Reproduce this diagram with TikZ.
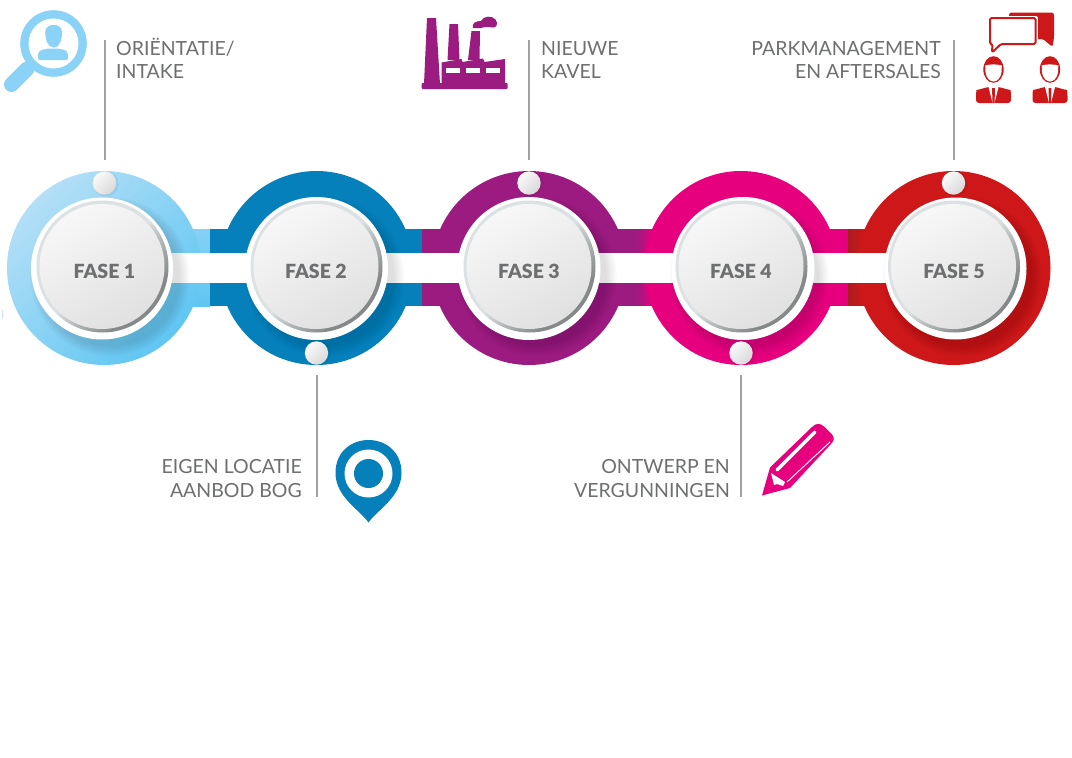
\documentclass[tikz,border=0pt]{standalone}
\usepackage{fontspec}
\setmainfont{Lato}
\newfontfamily\fasefont{Lato Black}
\usetikzlibrary{calc}
\definecolor{cA}{HTML}{8AD2F6}
\definecolor{cAl}{HTML}{B4DFF7}
\definecolor{cAm}{HTML}{84D1F6}
\definecolor{cAd}{HTML}{5FC6F2}
\definecolor{cB}{HTML}{0580BB}
\definecolor{cC}{HTML}{9C1B80}
\definecolor{cD}{HTML}{E6007E}
\definecolor{cE}{HTML}{CD1719}
\definecolor{cEd}{HTML}{A91D1F}
\definecolor{txt}{HTML}{6E6F70}
\definecolor{lead}{HTML}{9FA1A2}
\definecolor{rimpale}{HTML}{DCE2E3}
\definecolor{rimdark}{HTML}{858989}
\definecolor{rimmid}{HTML}{B4B9BA}
\pgfdeclareverticalshading{rimshade}{100bp}{color(0bp)=(rimdark); color(30bp)=(rimdark); color(42bp)=(rimmid); color(50bp)=(rimpale); color(100bp)=(rimpale)}
\tikzset{
  x=1pt,y=-1pt,
  leader/.style={draw=lead,line width=2pt},
  lbl/.style={text=txt,font=\fontsize{19.5}{23}\selectfont,inner sep=0pt},
  fase/.style={text=txt,font=\fontsize{19.5}{20}\fasefont\selectfont,inner sep=0pt,anchor=base},
  discnode/.style={circle,minimum size=125pt,inner sep=0pt,shading=axis,left color=white!97!black,right color=white!88!black,shading angle=30},
  rimnode/.style={circle,minimum size=132pt,inner sep=0pt,shading=rimshade,shading angle=45},
  knob/.style={circle,minimum size=23.4pt,inner sep=0pt,shading=axis,left color=white!98!black,right color=white!85!black,shading angle=45}
}
\newcommand{\softshadow}[3]{%
  \foreach \r in {1,...,8}{\fill[black,opacity=0.015] (#1,#2) circle ({#3-\r*1.4});}}
\begin{document}
\begin{tikzpicture}
\useasboundingbox (0,0) rectangle (1072,758);
\fill[white] (0,0) rectangle (1072,758);

% bars
\shade[top color=cAm,bottom color=cAd] (104,229) rectangle (210,306);
\foreach \a/\b/\c in {210/422/cB,422/636/cC,636/848/cD,848/953/cE}{
  \fill[\c] (\a,229) rectangle (\b,306);
}
\shade[left color=cC,right color=cD] (636,229.2) rectangle (654,305.8);
\shade[left color=cEd,right color=cE] (848,229.2) rectangle (863,305.8);
% rings
\shade[left color=cAl,right color=cAd,shading angle=45] (104,268) circle (97);
\fill[cB] (316.5,268) circle (97);
\fill[cC] (529,268) circle (97);
\fill[cD] (741,268) circle (97);
\fill[cE] (953.5,268) circle (97);
\fill[cAl!60!white] (2.6,314) ellipse (0.8 and 5);
% white channel
\fill[white] (104,253) rectangle (953,283);

% shadows
\softshadow{110}{276.5}{81}
\softshadow{324.5}{276.5}{81}
\softshadow{537}{276.5}{81}
\softshadow{749}{276.5}{81}
\softshadow{962}{276.5}{81}

% white halos
\fill[white] (102,268.5) circle (71);
\fill[white] (316.5,268.5) circle (71.5);
\fill[white] (529,268.5) circle (71.5);
\fill[white] (743,268.5) circle (71.5);
\fill[white] (955.5,268.5) circle (71);

% rims and discs
\node[rimnode] (r1) at (102.5,266.5) {};
\node[rimnode] (r2) at (316.5,266.5) {};
\node[rimnode] (r3) at (529.5,266.5) {};
\node[rimnode] (r4) at (741.5,266.5) {};
\node[rimnode] (r5) at (954,266.5) {};
\node[discnode] (d1) at (102,266.5) {};
\node[discnode] (d2) at (316,266.5) {};
\node[discnode] (d3) at (529,266.5) {};
\node[discnode] (d4) at (741,266.5) {};
\node[discnode] (d5) at (953.5,266.5) {};
\node[fase] (t1) at (104.5,278) {FASE 1};
\node[fase] (t2) at (316,278) {FASE 2};
\node[fase] (t3) at (529,278) {FASE 3};
\node[fase] (t4) at (741,278) {FASE 4};
\node[fase] (t5) at (954,278) {FASE 5};

% knobs
\foreach \x/\y in {104.5/183,529/183,953.5/183,316.5/353,741/353}{
  \fill[black,opacity=.05] (\x+1.5,\y+1) circle (12.6);
}
\node[knob] (k1) at (104.5,183) {};
\node[knob] (k2) at (316.5,353) {};
\node[knob] (k3) at (529,183) {};
\node[knob] (k4) at (741,353) {};
\node[knob] (k5) at (953.5,183) {};

% leaders
\coordinate (e1) at (104.5,40);
\coordinate (e2) at (316.5,497);
\coordinate (e3) at (529,40);
\coordinate (e4) at (741,497);
\coordinate (e5) at (953.5,40);
\draw[leader,shorten >=11.5pt] (e1) -- (k1.north);
\draw[leader,shorten >=10.5pt] (e2) -- (k2.south);
\draw[leader,shorten >=11.5pt] (e3) -- (k3.north);
\draw[leader,shorten >=10.5pt] (e4) -- (k4.south);
\draw[leader,shorten >=11.5pt] (e5) -- (k5.north);

% labels
\node[lbl,anchor=base west] (l1a) at (116,55) {ORIËNTATIE/};
\node[lbl,anchor=base west] (l1b) at (116,78) {INTAKE};
\node[lbl,anchor=base east] (l2a) at (302,473) {EIGEN LOCATIE};
\node[lbl,anchor=base east] (l2b) at (302,497) {AANBOD BOG};
\node[lbl,anchor=base west] (l3a) at (541,55) {NIEUWE};
\node[lbl,anchor=base west] (l3b) at (541,78) {KAVEL};
\node[lbl,anchor=base east] (l4a) at (730,473) {ONTWERP EN};
\node[lbl,anchor=base east] (l4b) at (730,497) {VERGUNNINGEN};
\node[lbl,anchor=base east] (l5a) at (941,55) {PARKMANAGEMENT};
\node[lbl,anchor=base east] (l5b) at (941,78) {EN AFTERSALES};

% magnifier icon
\draw[cA,line width=15pt,line cap=round] (27,69) -- (11.5,84.5);
\fill[cA] (53.5,43.5) circle (33.3);
\fill[white] (53.5,43.5) circle (25);
\fill[cA] (45.2,32) .. controls (45.2,22.5) and (62,22.5) .. (62,32) .. controls (62,38) and (60.5,47.5) .. (53.5,47.5) .. controls (47,47.5) and (45.2,38) .. (45.2,32) -- cycle;
\fill[cA,rounded corners=2pt] (38,60) -- (38,55) .. controls (39,50) and (45,48.5) .. (53,48.5) .. controls (61,48.5) and (67,50) .. (68,55) -- (68,60) -- cycle;

% factory icon
\fill[cC,rounded corners=1pt] (421.5,83) rectangle (507.5,89);
\fill[cC] (427,18) -- (436,18) -- (440,84) -- (424,84) -- cycle;
\fill[cC] (449.5,24) -- (458,24) -- (459.5,60) -- (447.5,60) -- cycle;
\fill[cC] (471.5,31) -- (480,31) -- (479.5,60) -- (468,60) -- cycle;
\fill[cC] (441.5,84) -- (441.5,62.5) -- (461.5,59) -- (462.5,62) -- (483,58.5) -- (484.5,62) -- (505,59) -- (505,84) -- cycle;
\fill[white] (446,67.5) rectangle (459.5,73);
\fill[white] (466,67.5) rectangle (479.5,73);
\fill[white] (486,67.5) rectangle (499.5,73);
\fill[cC] (473,28) .. controls (471.5,23) and (476,21) .. (481,21) .. controls (483,16) and (492,15) .. (495.5,19.5) .. controls (499,24) and (496,28.5) .. (492,27.5) .. controls (488,26.5) and (484,27) .. (481,28) -- cycle;

% chat and people icon
\fill[cE,rounded corners=2.5pt] (1009,12.5) -- (1054,12.5) -- (1054,38) -- (1052.5,47) -- (1043,39) -- (1030,39) -- (1009,20) -- cycle;
\draw[white,line width=4.5pt,fill=white,line join=round] (990,18) -- (1035.5,18) -- (1035.5,44) -- (990,44) -- cycle;
\draw[cE,fill=white,line width=2pt,line join=round,rounded corners=1.5pt] (990,18) -- (1035.5,18) -- (1035.5,44) -- (1001,44) -- (992,52.5) -- (992.5,44) -- (990,44) -- cycle;
\foreach \c in {993.5,1050}{
  \fill[cE] (\c,69.5) ellipse (10.2 and 13.3);
  \fill[white] (\c-8.3,65.5) .. controls (\c-3,64) and (\c+3,64) .. (\c+8.3,65.5) -- (\c+8,72) .. controls (\c+7,79) and (\c+3,81.5) .. (\c,81.5) .. controls (\c-3,81.5) and (\c-7,79) .. (\c-8,72) -- cycle;
  \fill[cE,rounded corners=3pt] (\c-17.5,103) -- (\c-17.5,93) .. controls (\c-17,90) and (\c-12,89) .. (\c-6,87) -- (\c+6,87) .. controls (\c+12,89) and (\c+17,90) .. (\c+17.5,93) -- (\c+17.5,103) -- cycle;
  \fill[white] (\c-5,87) -- (\c+5,87) -- (\c+1,103) -- (\c-1,103) -- cycle;
  \fill[cE] (\c-1.3,88) -- (\c+1.3,88) -- (\c+1.2,103) -- (\c-1.2,103) -- cycle;
}

% pin icon
\fill[cB] (368.5,522.5) .. controls (360,510) and (335.5,497) .. (335.5,473) .. controls (335.5,429) and (401.5,429) .. (401.5,473) .. controls (401.5,497) and (377,510) .. (368.5,522.5) -- cycle;
\fill[white] (368.5,473.5) circle (24);
\fill[cB] (368.5,473.5) circle (14.5);

% pencil icon
\fill[cD,line join=round] (762,495.5) -- (770,467.5) -- (812,427) .. controls (816,423) and (820,423) .. (824,426.5) -- (832,434.5) .. controls (835,438) and (834,441) .. (831,444) -- (790,488) -- cycle;
\draw[white,line width=3.4pt,line cap=round] (777,470) -- (815,432);
\draw[white,line width=.9pt] (787,482) -- (830,442);
\fill[white] (771,473) -- (785,482) -- (783,486) -- (777,484) -- (774,485) -- cycle;
\end{tikzpicture}
\end{document}
